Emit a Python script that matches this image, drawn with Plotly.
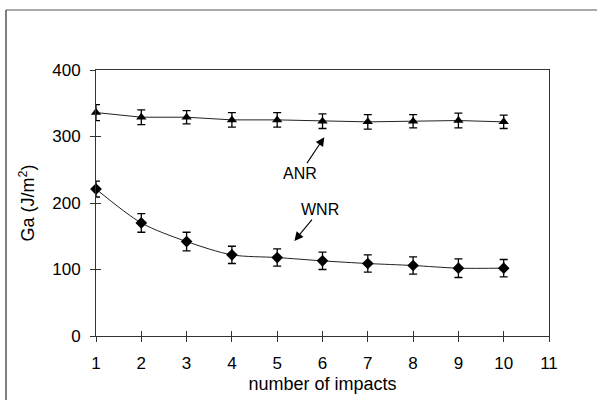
import plotly.graph_objects as go

impacts = [1, 2, 3, 4, 5, 6, 7, 8, 9, 10]
anr = [336, 329, 329, 325, 325, 323, 322, 323, 324, 322]
anr_err = [12, 11, 10, 11, 11, 11, 11, 10, 11, 10]
wnr = [221, 170, 142, 122, 118, 113, 109, 106, 102, 102]
wnr_err = [12, 14, 14, 13, 13, 13, 13, 13, 14, 13]
x_ticks = [1, 2, 3, 4, 5, 6, 7, 8, 9, 10, 11]
y_ticks = [0, 100, 200, 300, 400]

W, H = 597, 400
L, R, T, B = 96, 48, 70, 64
FONT = "Liberation Sans, Arial, sans-serif"

fig = go.Figure()
fig.add_trace(go.Scatter(
    x=impacts, y=anr, mode="lines+markers",
    line=dict(color="#222", width=1),
    marker=dict(symbol="triangle-up", size=9, color="black"),
    error_y=dict(type="data", array=anr_err, color="black", thickness=1.3, width=4),
    showlegend=False, cliponaxis=False))
fig.add_trace(go.Scatter(
    x=impacts, y=wnr, mode="lines+markers",
    line=dict(color="#222", width=1, shape="spline", smoothing=0.8),
    marker=dict(symbol="diamond", size=9, color="black"),
    error_y=dict(type="data", array=wnr_err, color="black", thickness=1.3, width=4),
    showlegend=False, cliponaxis=False))

axis_common = dict(showgrid=False, zeroline=False, showline=True, linecolor="#333",
                   linewidth=1, tickcolor="#333", ticklen=5, automargin=False,
                   tickfont=dict(family=FONT, size=17, color="black"))

fig.update_layout(
    width=W, height=H, margin=dict(l=L, r=R, t=T, b=B),
    paper_bgcolor="white", plot_bgcolor="white",
    font=dict(family=FONT, size=17, color="black"),
    xaxis=dict(range=[1, 11], tickvals=x_ticks, ticks="outside", mirror=True,
               ticklabelstandoff=7,
               title=dict(text="number of impacts", standoff=4,
                          font=dict(family=FONT, size=18)),
               **axis_common),
    yaxis=dict(range=[0, 400], tickvals=y_ticks, ticks="outside", mirror=True,
               ticklabelstandoff=6,
               title=dict(text="Ga (J/m<sup>2</sup>)", standoff=12,
                          font=dict(family=FONT, size=18)),
               **axis_common),
    xaxis2=dict(range=[1, 11], tickvals=x_ticks, ticks="inside", overlaying="x",
                showticklabels=False, showgrid=False, zeroline=False, showline=False,
                tickcolor="#333", ticklen=5, automargin=False),
    yaxis2=dict(range=[0, 400], tickvals=y_ticks, ticks="inside", overlaying="y",
                showticklabels=False, showgrid=False, zeroline=False, showline=False,
                tickcolor="#333", ticklen=5, automargin=False),
)
# invisible trace to activate the inside-tick axes
fig.add_trace(go.Scatter(x=[1], y=[0], xaxis="x2", yaxis="y2", mode="markers",
                         marker=dict(opacity=0), showlegend=False, hoverinfo="skip"))

pw, ph = W - L - R, H - T - B
x_left = (6 - L) / pw
y_top = (H - B - 10) / ph
fig.add_shape(type="line", xref="paper", yref="paper", x0=x_left, x1=(W - L) / pw + 0.01,
              y0=y_top, y1=y_top, line=dict(color="#555", width=1))
fig.add_shape(type="line", xref="paper", yref="paper", x0=x_left, x1=x_left,
              y0=y_top, y1=-B / ph - 0.05, line=dict(color="#555", width=1.5))

# labels with arrows (text sits at the arrow tail)
fig.add_annotation(x=6.04, y=299, ax=5.51, ay=245, axref="x", ayref="y", text="ANR",
                   showarrow=True, arrowhead=2, arrowsize=1.6, arrowwidth=1.1,
                   arrowcolor="black", font=dict(family=FONT, size=16, color="black"))
fig.add_annotation(x=5.38, y=143, ax=5.95, ay=190, axref="x", ayref="y", text="WNR",
                   showarrow=True, arrowhead=2, arrowsize=1.6, arrowwidth=1.1,
                   arrowcolor="black", font=dict(family=FONT, size=16, color="black"))

fig.write_html("out.html")
